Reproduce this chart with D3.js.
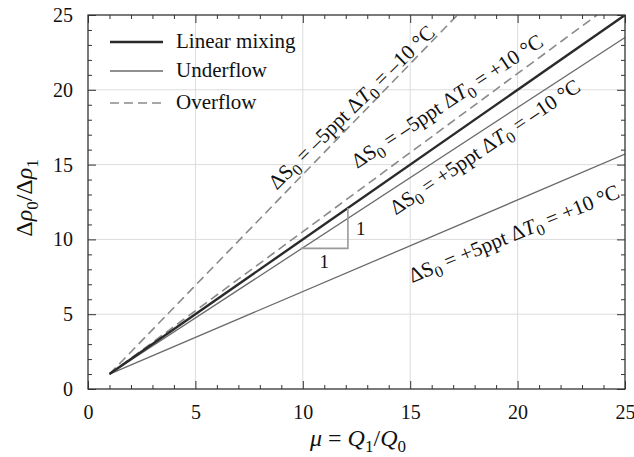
<!DOCTYPE html>
<html><head><meta charset="utf-8">
<script src="https://cdn.jsdelivr.net/npm/d3@7"></script>
<style>
body{margin:0;background:#fff}
svg{display:block}
text{font-family:"Liberation Serif","Times New Roman",serif;fill:#111}
</style>
</head><body>
<svg id="c" width="634" height="457"></svg>
<script>
// ---- data ----
const xDomain = [0, 25];
const yDomain = [0, 25];
const majorTicks = [0, 5, 10, 15, 20, 25];
const minorTicks = [1,2,3,4,6,7,8,9,11,12,13,14,16,17,18,19,21,22,23,24];
const legendNames = ["Linear mixing", "Underflow", "Overflow"];

const linearMu = [1, 25],   linearRatio = [1, 25];     // linear mixing
const under1Mu = [1, 25],   under1Ratio = [1, 23.5];   // ΔS0=+5ppt ΔT0=-10°C
const under2Mu = [1, 25],   under2Ratio = [1, 15.7];   // ΔS0=+5ppt ΔT0=+10°C
const over1Mu  = [1, 17.2], over1Ratio  = [1, 25];     // ΔS0=-5ppt ΔT0=-10°C
const over2Mu  = [1, 23.7], over2Ratio  = [1, 25];     // ΔS0=-5ppt ΔT0=+10°C

const slopeMu = [9.9, 12.1, 12.1];
const slopeRatio = [9.4, 9.4, 12.1];

// ---- setup ----
const svg = d3.select("#c");
const x = d3.scaleLinear().domain(xDomain).range([88, 625]);
const y = d3.scaleLinear().domain(yDomain).range([389, 15]);

const styles = {
  linear: {stroke: "#2a2a2a", width: 2.4, dash: null},
  under:  {stroke: "#6a6a6a", width: 1.3, dash: null},
  over:   {stroke: "#8a8a8a", width: 1.6, dash: "9,5"}
};

// grid
const g = svg.append("g");
g.selectAll(".gx").data(majorTicks.slice(1, -1)).join("line")
  .attr("x1", d => x(d)).attr("x2", d => x(d))
  .attr("y1", y(yDomain[0])).attr("y2", y(yDomain[1]))
  .attr("stroke", "#dcdcdc").attr("stroke-width", 1);
g.selectAll(".gy").data(majorTicks.slice(1, -1)).join("line")
  .attr("y1", d => y(d)).attr("y2", d => y(d))
  .attr("x1", x(xDomain[0])).attr("x2", x(xDomain[1]))
  .attr("stroke", "#dcdcdc").attr("stroke-width", 1);

// clip
svg.append("clipPath").attr("id", "clip").append("rect")
  .attr("x", x(0)).attr("y", y(25)).attr("width", x(25) - x(0)).attr("height", y(0) - y(25));

const line = d3.line().x(d => x(d[0])).y(d => y(d[1]));
const series = [
  {mu: under2Mu, r: under2Ratio, s: styles.under},
  {mu: under1Mu, r: under1Ratio, s: styles.under},
  {mu: over1Mu,  r: over1Ratio,  s: styles.over},
  {mu: over2Mu,  r: over2Ratio,  s: styles.over},
  {mu: linearMu, r: linearRatio, s: styles.linear}
];
const lg = svg.append("g").attr("clip-path", "url(#clip)");
series.forEach(sr => {
  lg.append("path").datum(sr.mu.map((m, i) => [m, sr.r[i]]))
    .attr("d", line).attr("fill", "none")
    .attr("stroke", sr.s.stroke).attr("stroke-width", sr.s.width)
    .attr("stroke-dasharray", sr.s.dash);
});

// slope triangle
svg.append("path").datum(slopeMu.map((m, i) => [m, slopeRatio[i]]))
  .attr("d", line).attr("fill", "none").attr("stroke", "#9a9a9a").attr("stroke-width", 1.6);
svg.append("text").attr("x", x(12.1) + 8).attr("y", y(10.75) + 7)
  .attr("font-size", 19).text("1");
svg.append("text").attr("x", x(11.0)).attr("y", y(9.4) + 20)
  .attr("text-anchor", "middle").attr("font-size", 19).text("1");

// axes (ticks inward on all four sides)
function addAxis(axisFn, scale, transform, ticks, size, labels) {
  const a = axisFn(scale).tickValues(ticks).tickSize(size).tickSizeOuter(0);
  if (!labels) a.tickFormat("");
  else a.tickPadding(labels);
  const ag = svg.append("g").attr("transform", transform).call(a);
  ag.select(".domain").remove();
  ag.selectAll(".tick line").attr("stroke", "#333").attr("stroke-width", 1);
  ag.selectAll("text").attr("font-size", 20).attr("fill", "#111");
  return ag;
}
addAxis(d3.axisBottom, x, `translate(0,${y(0)})`, minorTicks, -4);
addAxis(d3.axisBottom, x, `translate(0,${y(0)})`, majorTicks, -8, 16);
addAxis(d3.axisTop, x, `translate(0,${y(25)})`, minorTicks, -4);
addAxis(d3.axisTop, x, `translate(0,${y(25)})`, majorTicks, -8);
addAxis(d3.axisLeft, y, `translate(${x(0)},0)`, minorTicks, -4);
addAxis(d3.axisLeft, y, `translate(${x(0)},0)`, majorTicks, -8, 15);
addAxis(d3.axisRight, y, `translate(${x(25)},0)`, minorTicks, -4);
addAxis(d3.axisRight, y, `translate(${x(25)},0)`, majorTicks, -8);

svg.append("rect").attr("x", x(0)).attr("y", y(25))
  .attr("width", x(25) - x(0)).attr("height", y(0) - y(25))
  .attr("fill", "none").attr("stroke", "#333").attr("stroke-width", 1.3);

// rich text helper
function rich(t, parts, subSize, shift) {
  let prevSub = false;
  parts.forEach(p => {
    const ts = t.append("tspan").text(p.t);
    if (p.it) ts.attr("font-style", "italic");
    if (p.sub) { ts.attr("font-size", subSize).attr("dy", shift); prevSub = true; }
    else if (prevSub) { ts.attr("dy", -shift); prevSub = false; }
  });
  return t;
}

// legend
const legendStyles = [styles.linear, styles.under, styles.over];
const legendY = [42, 71, 103];
legendNames.forEach((n, i) => {
  const s = legendStyles[i];
  svg.append("line").attr("x1", 110).attr("x2", 163).attr("y1", legendY[i]).attr("y2", legendY[i])
    .attr("stroke", s.stroke).attr("stroke-width", s.width).attr("stroke-dasharray", s.dash);
  svg.append("text").attr("x", 176).attr("y", legendY[i] + 6).attr("font-size", 21).text(n);
});

// line annotations
const annotations = [
  {mu: 12.5,  r: 18.5,  a: -44.5, ds: "–5ppt", dt: "–10"},
  {mu: 16.9,  r: 18.85, a: -33.5, ds: "–5ppt", dt: "+10"},
  {mu: 18.66, r: 15.8,  a: -34,   ds: "+5ppt", dt: "–10"},
  {mu: 19.95, r: 9.95,  a: -22.3, ds: "+5ppt", dt: "+10"}
];
annotations.forEach(an => {
  const px = x(an.mu), py = y(an.r);
  const t = svg.append("text").attr("font-size", 21).attr("text-anchor", "middle")
    .attr("transform", `translate(${px},${py}) rotate(${an.a})`);
  rich(t, [
    {t: "ΔS"}, {t: "0", sub: true},
    {t: " = " + an.ds + " Δ"}, {t: "T", it: true}, {t: "0", sub: true},
    {t: " = " + an.dt + " °C"}
  ], 16, 5);
});

// axis titles
const xt = svg.append("text").attr("x", 358).attr("y", 446).attr("text-anchor", "middle").attr("font-size", 24);
rich(xt, [{t: "μ", it: true}, {t: " = "}, {t: "Q", it: true}, {t: "1", sub: true}, {t: "/"}, {t: "Q", it: true}, {t: "0", sub: true}], 17, 6);
const yt = svg.append("text").attr("text-anchor", "middle").attr("font-size", 24)
  .attr("transform", "translate(32,198) rotate(-90)");
rich(yt, [{t: "Δ"}, {t: "ρ", it: true}, {t: "0", sub: true}, {t: "/Δ"}, {t: "ρ", it: true}, {t: "1", sub: true}], 17, 6);

svg.selectAll("text").style("font-family", "'Liberation Serif', 'Times New Roman', serif");
</script>
</body></html>
